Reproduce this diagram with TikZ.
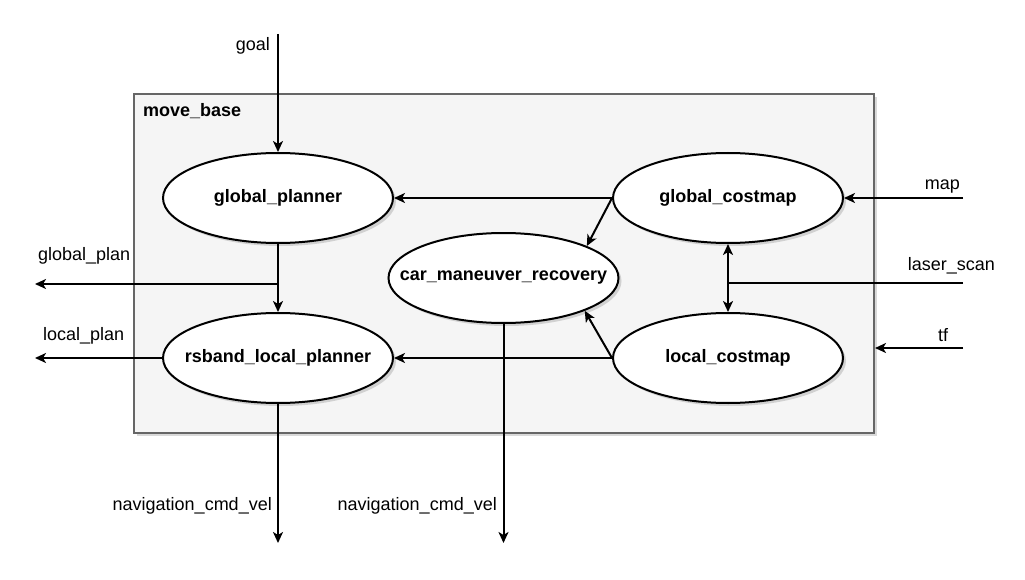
\documentclass[tikz,border=0pt]{standalone}
\usepackage{fontspec}
\setmainfont{Liberation Sans}
\usetikzlibrary{arrows.meta}
\usetikzlibrary{positioning}
\usetikzlibrary{shapes.geometric}
\usetikzlibrary{shadows}
\definecolor{boxgray}{HTML}{666666}
\definecolor{boxfill}{HTML}{F5F5F5}

\begin{document}
\begin{tikzpicture}[x=1pt, y=-1pt,
    font=\fontsize{18}{21}\selectfont,
    >={Stealth[length=11pt,width=10pt,inset=3pt]},
    proc/.style={ellipse, draw, line width=2pt, fill=white,
      minimum width=230pt, minimum height=90pt, inner xsep=-50pt, inner ysep=0pt,
      font=\fontsize{18}{21}\selectfont\bfseries,
      drop shadow={shadow xshift=3pt, shadow yshift=-3pt, opacity=0.3}},
    container/.style={draw=boxgray, line width=2pt, fill=boxfill,
      minimum width=740pt, minimum height=339pt,
      drop shadow={shadow xshift=3pt, shadow yshift=-3pt, opacity=0.3}},
    link/.style={->, line width=2pt},
    tag/.style={inner sep=0pt}]
    \useasboundingbox (0,0) rectangle (1025,580);

    \node[container] (mb) at (504,263.5) {};
    \node[tag, anchor=base west, font=\fontsize{18}{21}\selectfont\bfseries] (mbl) at (143,117) {move\_base};

    \node[proc] (gp) at (278,198) {global\_planner};
    \node[proc, right=218pt of gp] (gc) {global\_costmap};
    \node[proc, below=68pt of gp] (rp) {rsband\_local\_planner};
    \node[proc, below=68pt of gc] (lc) {local\_costmap};
    \node[proc] (cr) at (503.5,278) {car\_maneuver\_recovery};

    \coordinate (goal) at (278,34);
    \coordinate (gplan) at (35,284);
    \coordinate (lplan) at (35,358);
    \coordinate (nav1) at (278,543);
    \coordinate (nav2) at (503.5,543);
    \coordinate (map) at (963,198);
    \coordinate (scan) at (963,283);
    \coordinate (tf) at (963,348);

    \draw[link] (goal) -- (gp);
    \draw[link] (gp) -- (rp);
    \draw[link] (gp.south |- gplan) -- (gplan);
    \draw[link] (rp) -- (lplan);
    \draw[link] (rp) -- (nav1);
    \draw[link] (cr.south) -- (nav2);
    \draw[link] (gc) -- (gp);
    \draw[link] (gc.west) -- (cr.21);
    \draw[link] (lc.west) -- (cr.-22);
    \draw[link] (lc) -- (rp);
    \draw[<->, line width=2pt] (gc) -- (lc);
    \draw[line width=2pt] (scan) -- (scan -| gc.south);
    \draw[link] (map) -- (gc);
    \draw[link] (tf) -- (tf -| mb.east);

    \node[tag, anchor=base east] (goaltxt) at (270,51) {goal};
    \node[tag, anchor=base west] (gplantxt) at (38,260) {global\_plan};
    \node[tag, anchor=base west] (lplantxt) at (43,340) {local\_plan};
    \node[tag, anchor=base east] (nav1txt) at (272,510) {navigation\_cmd\_vel};
    \node[tag, anchor=base east] (nav2txt) at (497,510) {navigation\_cmd\_vel};
    \node[tag, anchor=base east] (maptxt) at (960,190) {map};
    \node[tag, anchor=base east] (scantxt) at (995,270) {laser\_scan};
    \node[tag, anchor=base] (tftxt) at (943,341) {tf};
  \end{tikzpicture}
\end{document}
